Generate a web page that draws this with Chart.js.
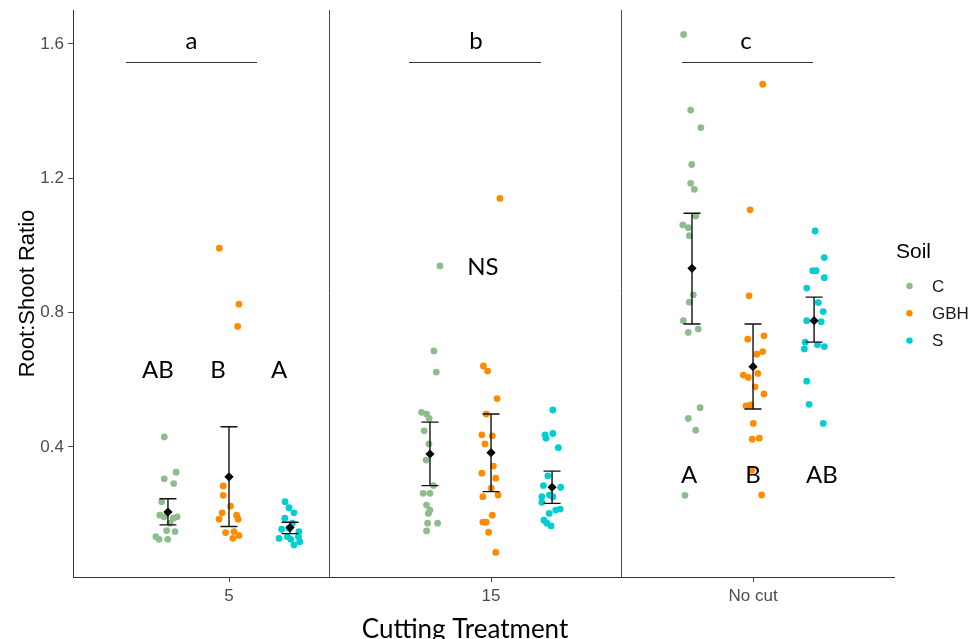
<!DOCTYPE html>
<html>
<head>
<meta charset="utf-8">
<script src="https://cdn.jsdelivr.net/npm/chart.js@4/dist/chart.umd.min.js"></script>
<style>
html,body{margin:0;padding:0;background:#fff;}
#wrap{width:973px;height:639px;position:relative;}
</style>
</head>
<body>
<div id="wrap"><canvas id="c" width="973" height="639"></canvas></div>
<script>
// ---------------- DATA ----------------
const categories = ['5', '15', 'No cut'];
const soils = ['C', 'GBH', 'S'];
const yTicks = [0.4, 0.8, 1.2, 1.6];

// Root:Shoot ratio values per cutting treatment and soil
const cut5_C   = [0.430, 0.325, 0.305, 0.291, 0.237, 0.197, 0.192, 0.192, 0.188, 0.173, 0.151, 0.148, 0.125, 0.125, 0.133];
const cut5_GBH = [0.284, 0.256, 0.224, 0.204, 0.197, 0.185, 0.185, 0.145, 0.148, 0.136, 0.128, 0.992, 0.825, 0.759];
const cut5_S   = [0.237, 0.219, 0.204, 0.188, 0.173, 0.155, 0.158, 0.148, 0.128, 0.133, 0.133, 0.108, 0.118, 0.125];
const cut15_C   = [0.939, 0.686, 0.623, 0.503, 0.498, 0.485, 0.448, 0.409, 0.361, 0.285, 0.262, 0.262, 0.227, 0.212, 0.202, 0.173, 0.173, 0.150];
const cut15_GBH = [1.140, 0.641, 0.626, 0.544, 0.498, 0.436, 0.433, 0.409, 0.343, 0.322, 0.307, 0.277, 0.252, 0.257, 0.197, 0.176, 0.176, 0.146, 0.086];
const cut15_S   = [0.510, 0.436, 0.426, 0.440, 0.398, 0.314, 0.285, 0.280, 0.257, 0.252, 0.235, 0.252, 0.202, 0.212, 0.215, 0.182, 0.173, 0.165];
const noCut_C   = [1.628, 1.403, 1.351, 1.241, 1.185, 1.167, 1.088, 1.061, 1.053, 1.029, 0.853, 0.831, 0.776, 0.741, 0.751, 0.517, 0.485, 0.450, 0.256];
const noCut_GBH = [1.480, 1.106, 0.850, 0.731, 0.721, 0.684, 0.676, 0.614, 0.607, 0.619, 0.579, 0.558, 0.522, 0.525, 0.470, 0.423, 0.426, 0.331, 0.257];
const noCut_S   = [1.043, 0.964, 0.925, 0.925, 0.904, 0.873, 0.830, 0.803, 0.776, 0.773, 0.712, 0.692, 0.704, 0.699, 0.596, 0.527, 0.470];

// horizontal jitter of each point (category units)
const cut5_C_jit   = [-0.014, 0.031, -0.014, 0.022, -0.024, -0.031, -0.015, 0.035, 0.020, 0.008, -0.005, 0.027, -0.034, -0.001, -0.046];
const cut5_GBH_jit = [-0.022, -0.022, 0.006, -0.026, 0.029, -0.038, 0.035, -0.013, 0.019, 0.038, 0.015, -0.037, 0.038, 0.033];
const cut5_S_jit   = [-0.019, -0.004, 0.015, -0.020, 0.009, -0.032, -0.004, 0.034, -0.042, -0.010, 0.032, 0.015, 0.037, 0.003];
const cut15_C_jit   = [0.038, 0.015, 0.024, -0.032, -0.013, -0.003, -0.022, -0.004, -0.015, 0.013, -0.026, 0.000, -0.013, 0.000, -0.006, -0.009, 0.029, -0.013];
const cut15_GBH_jit = [0.034, -0.029, -0.013, 0.023, -0.018, -0.035, 0.005, -0.023, 0.009, -0.035, 0.018, 0.001, -0.031, 0.027, 0.005, -0.031, -0.018, -0.009, 0.018];
const cut15_S_jit   = [0.003, -0.027, -0.023, 0.003, 0.024, -0.016, -0.033, 0.033, -0.010, -0.039, -0.039, 0.003, -0.011, 0.014, 0.031, -0.031, -0.020, -0.004];
const noCut_C_jit   = [-0.032, -0.005, 0.034, -0.001, -0.005, 0.009, 0.014, -0.035, -0.014, -0.010, 0.005, -0.010, -0.033, -0.014, 0.024, 0.031, -0.014, 0.014, -0.027];
const noCut_GBH_jit = [0.037, -0.011, -0.015, 0.042, -0.020, 0.037, 0.014, -0.037, -0.018, 0.018, 0.008, 0.042, -0.027, -0.009, 0.001, -0.003, 0.024, -0.005, 0.033];
const noCut_S_jit   = [0.004, 0.039, -0.005, 0.008, 0.039, -0.028, 0.016, 0.035, -0.028, 0.027, -0.034, -0.037, 0.013, 0.039, -0.028, -0.019, 0.035];

// mean and error-bar limits per soil, across categories [5, 15, No cut]
const meanC   = [0.206, 0.379, 0.932];
const meanGBH = [0.311, 0.383, 0.639];
const meanS   = [0.160, 0.280, 0.776];
const upperC   = [0.246, 0.474, 1.096];
const upperGBH = [0.460, 0.498, 0.766];
const upperS   = [0.176, 0.328, 0.846];
const lowerC   = [0.168, 0.285, 0.766];
const lowerGBH = [0.163, 0.267, 0.513];
const lowerS   = [0.142, 0.232, 0.712];

// significance letters
const treatmentLetters = ['a', 'b', 'c'];
const cut5Letters = ['AB', 'B', 'A'];
const cut15Letter = 'NS';
const noCutLetters = ['A', 'B', 'AB'];

// ---------------- layout / style ----------------
const X_MIN = 0.4046, X_MAX = 3.538;
const Y_MIN = 0.0128, Y_MAX = 1.701;
const dodge = [-0.233, 0, 0.233];
const colors = ['#8FBC8F', '#FF8C00', '#00CED1'];
const ANNO_FONT = 'Lato, "Open Sans", sans-serif';
const AX_FONT = '"Liberation Sans", Arial, sans-serif';

const values = [[cut5_C, cut15_C, noCut_C], [cut5_GBH, cut15_GBH, noCut_GBH], [cut5_S, cut15_S, noCut_S]];
const jitters = [[cut5_C_jit, cut15_C_jit, noCut_C_jit], [cut5_GBH_jit, cut15_GBH_jit, noCut_GBH_jit], [cut5_S_jit, cut15_S_jit, noCut_S_jit]];
const means = [meanC, meanGBH, meanS];
const uppers = [upperC, upperGBH, upperS];
const lowers = [lowerC, lowerGBH, lowerS];

const datasets = soils.map((s, si) => {
  const data = [];
  categories.forEach((c, ci) => {
    values[si][ci].forEach((v, k) => {
      data.push({ x: ci + 1 + dodge[si] + jitters[si][ci][k], y: v });
    });
  });
  return {
    label: s, data, order: 2,
    backgroundColor: colors[si], borderWidth: 0,
    pointRadius: 3.4, pointHoverRadius: 3.4
  };
});
const meanData = [];
soils.forEach((s, si) => categories.forEach((c, ci) => meanData.push({ x: ci + 1 + dodge[si], y: means[si][ci] })));
datasets.push({
  label: 'mean', data: meanData, order: 0,
  backgroundColor: '#000', borderColor: '#000', borderWidth: 0,
  pointStyle: 'rectRot', pointRadius: 4.6, pointHoverRadius: 4.6
});

const errPlugin = {
  id: 'errbars',
  afterDatasetsDraw(chart) {
    const { ctx, scales: { x, y } } = chart;
    ctx.save();
    ctx.strokeStyle = '#111';
    ctx.lineWidth = 1.4;
    soils.forEach((s, si) => categories.forEach((c, ci) => {
      const px = x.getPixelForValue(ci + 1 + dodge[si]);
      const pt = y.getPixelForValue(uppers[si][ci]);
      const pb = y.getPixelForValue(lowers[si][ci]);
      ctx.beginPath();
      ctx.moveTo(px, pt); ctx.lineTo(px, pb);
      ctx.moveTo(px - 8.5, pt); ctx.lineTo(px + 8.5, pt);
      ctx.moveTo(px - 8.5, pb); ctx.lineTo(px + 8.5, pb);
      ctx.stroke();
    }));
    ctx.restore();
  }
};

const annoPlugin = {
  id: 'anno',
  afterDraw(chart) {
    const { ctx, chartArea: ca, scales: { x, y } } = chart;
    ctx.save();
    // panel separators
    ctx.strokeStyle = '#4a4a4a';
    ctx.lineWidth = 1;
    [1.382, 2.496].forEach(v => {
      const px = Math.round(x.getPixelForValue(v)) + 0.5;
      ctx.beginPath(); ctx.moveTo(px, ca.top); ctx.lineTo(px, ca.bottom); ctx.stroke();
    });
    // treatment letters with lines
    const lineRanges = [[0.607, 1.107], [1.687, 2.191], [2.729, 3.229]];
    const letterX = [0.857, 1.943, 2.973];
    ctx.strokeStyle = '#333';
    lineRanges.forEach((r, i) => {
      const py = Math.round(y.getPixelForValue(1.546)) + 0.5;
      ctx.beginPath(); ctx.moveTo(x.getPixelForValue(r[0]), py); ctx.lineTo(x.getPixelForValue(r[1]), py); ctx.stroke();
    });
    ctx.fillStyle = '#000';
    ctx.font = '24px ' + ANNO_FONT;
    ctx.textAlign = 'center';
    ctx.textBaseline = 'alphabetic';
    treatmentLetters.forEach((t, i) => ctx.fillText(t, x.getPixelForValue(letterX[i]), y.getPixelForValue(1.586)));
    const c5x = [0.729, 0.958, 1.191];
    cut5Letters.forEach((t, i) => ctx.fillText(t, x.getPixelForValue(c5x[i]), y.getPixelForValue(0.604)));
    ctx.fillText(cut15Letter, x.getPixelForValue(1.969), y.getPixelForValue(0.912));
    const ncx = [2.756, 3.0, 3.263];
    noCutLetters.forEach((t, i) => ctx.fillText(t, x.getPixelForValue(ncx[i]), y.getPixelForValue(0.292)));
    // x-axis title
    ctx.font = '26px ' + ANNO_FONT;
    ctx.fillText('Cutting Treatment', 465, 638);
    // legend
    ctx.textAlign = 'left';
    ctx.textBaseline = 'middle';
    ctx.font = '21px ' + AX_FONT;
    ctx.fillStyle = '#000';
    ctx.fillText('Soil', 896, 252);
    ctx.font = '17px ' + AX_FONT;
    soils.forEach((s, i) => {
      const cy = 286 + i * 27.3;
      ctx.fillStyle = colors[i];
      ctx.beginPath(); ctx.arc(909.5, cy, 3.2, 0, Math.PI * 2); ctx.fill();
      ctx.fillStyle = '#1a1a1a';
      ctx.fillText(s, 932, cy + 1);
    });
    ctx.restore();
  }
};

new Chart(document.getElementById('c'), {
  type: 'scatter',
  data: { datasets },
  plugins: [errPlugin, annoPlugin],
  options: {
    responsive: false,
    animation: false,
    devicePixelRatio: 1,
    layout: { padding: { left: 12, right: 79, top: 10, bottom: 0 } },
    plugins: { legend: { display: false }, tooltip: { enabled: false } },
    scales: {
      x: {
        type: 'linear', min: X_MIN, max: X_MAX,
        afterBuildTicks: s => { s.ticks = categories.map((c, i) => ({ value: i + 1 })); },
        afterFit: s => { s.height = 62; s.paddingLeft = 0; s.paddingRight = 0; },
        ticks: {
          callback: v => categories[Math.round(v) - 1],
          font: { family: AX_FONT, size: 17 }, color: '#4d4d4d', padding: 4,
          autoSkip: false, maxRotation: 0
        },
        grid: { display: true, drawOnChartArea: false, drawTicks: true, tickLength: 5, color: '#4d4d4d' },
        border: { display: true, color: '#333', width: 1 }
      },
      y: {
        type: 'linear', min: Y_MIN, max: Y_MAX,
        afterBuildTicks: s => { s.ticks = yTicks.map(v => ({ value: v })); },
        afterFit: s => { s.width = 61; s.paddingTop = 0; s.paddingBottom = 0; },
        ticks: {
          callback: v => Number(v).toFixed(1),
          font: { family: AX_FONT, size: 17 }, color: '#4d4d4d', padding: 4
        },
        grid: { display: true, drawOnChartArea: false, drawTicks: true, tickLength: 5, color: '#4d4d4d' },
        border: { display: true, color: '#333', width: 1 },
        title: {
          display: true, text: 'Root:Shoot Ratio', color: '#000',
          font: { family: AX_FONT, size: 22 }, padding: { top: 3, bottom: 4 }
        }
      }
    }
  }
});
</script>
</body>
</html>
